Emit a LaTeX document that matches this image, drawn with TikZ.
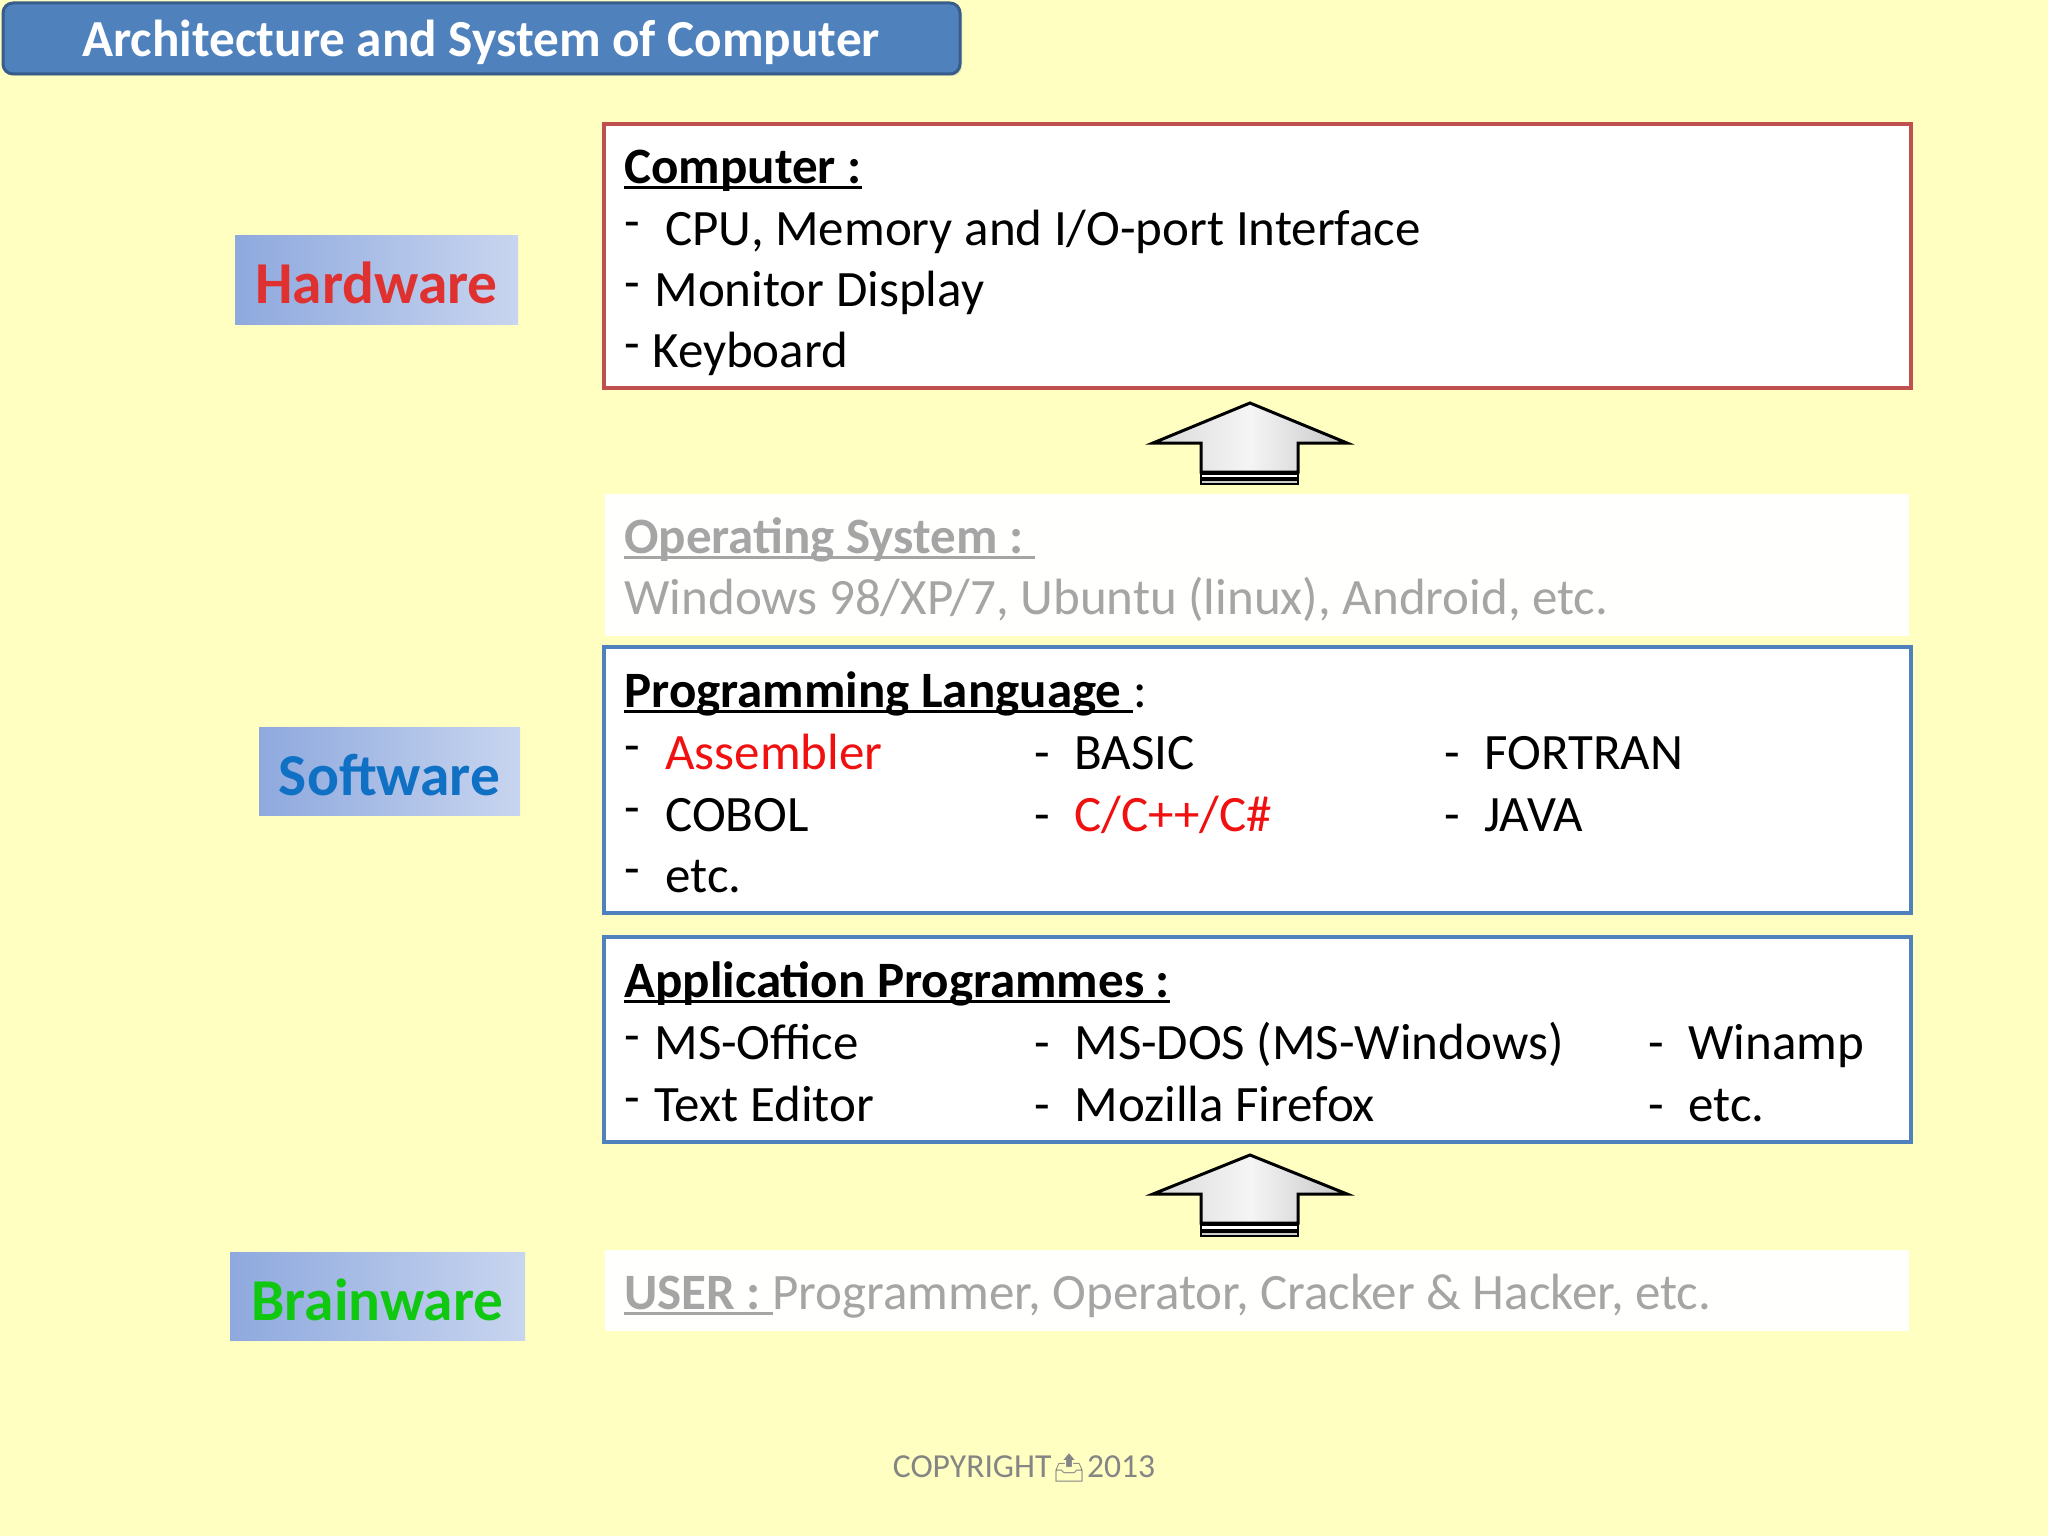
\documentclass[tikz,border=0pt]{standalone}
\usepackage{fontspec}
\setmainfont{Carlito}
\newfontfamily\emojifont{Noto Emoji}
\usetikzlibrary{shadows}
\newsavebox\ulbox
\newcommand\myul[1]{\sbox\ulbox{#1}\rlap{\rule[-3.2pt]{\wd\ulbox}{1.5pt}}\usebox\ulbox}
\definecolor{bgyellow}{HTML}{FFFFC2}
\definecolor{titleblue}{HTML}{4F81BD}
\definecolor{titleborder}{HTML}{385D8A}
\definecolor{hwred}{HTML}{C0504D}
\definecolor{swblue}{HTML}{4F81BD}
\definecolor{lblleft}{HTML}{8EA9DE}
\definecolor{lblright}{HTML}{C8D5EF}
\definecolor{hwtext}{HTML}{E03131}
\definecolor{swtext}{HTML}{1070C4}
\definecolor{bwtext}{HTML}{10C810}
\definecolor{osgray}{HTML}{A5A5A5}
\definecolor{cpgray}{HTML}{858585}
\definecolor{boxwhite}{HTML}{FFFFFD}
\definecolor{redtext}{HTML}{F01010}
\tikzset{
  lbl/.style={inner sep=0pt, font=\fontsize{29.7pt}{34pt}\selectfont\bfseries},
  txt/.style={anchor=base west, inner sep=0pt, font=\fontsize{25.5pt}{30pt}\selectfont},
  bul/.style={anchor=base west, inner sep=0pt, font=\fontsize{25.5pt}{30pt}\selectfont},
  hbox/.style={draw=hwred, line width=2pt, fill=white},
  sbox/.style={draw=swblue, line width=2pt, fill=white},
  pbox/.style={fill=boxwhite},
  lblbox/.style={left color=lblleft, right color=lblright},
  arrowbody/.style={draw=black, line width=1.5pt, left color=gray!30, right color=gray!45, middle color=gray!8, line join=miter},
}
\newcommand\rdash{\raisebox{3.5pt}{-}}
\begin{document}
\begin{tikzpicture}[x=0.5pt,y=-0.5pt]
\useasboundingbox (0,0) rectangle (2048,1536);
\fill[bgyellow] (0,0) rectangle (2048,1536);

% title
\draw[fill=titleblue, draw=titleborder, line width=1.5pt, rounded corners=5pt, drop shadow={opacity=0.25, shadow xshift=1pt, shadow yshift=-1pt}] (3,3) rectangle (960,74);
\node[anchor=base west, inner sep=0pt, text=white, font=\fontsize{26pt}{30pt}\selectfont\bfseries, xscale=0.985] (title) at (82,57) {Architecture and System of Computer};

% labels
\node[lblbox, minimum width=141.5pt, minimum height=44.5pt] (hwbox) at (376.5,279.5) {};
\node[lbl, text=hwtext] (hw) at (376.5,283) {Hardware};
\node[lblbox, minimum width=130.5pt, minimum height=44pt] (swbox) at (389.5,771) {};
\node[lbl, text=swtext] (sw) at (389.5,775) {Software};
\node[lblbox, minimum width=147.5pt, minimum height=44pt] (bwbox) at (377.5,1296) {};
\node[lbl, text=bwtext] (bw) at (377.5,1300) {Brainware};

% computer box
\draw[hbox] (604,124) rectangle (1911,388);
\node[txt] (c0) at (624,183) {\textbf{\myul{Computer :}}};
\node[bul] (c1d) at (624,245) {\rdash};
\node[txt] (c1) at (665,245) {CPU, Memory and I/O-port Interface};
\node[bul] (c2d) at (624,306) {\rdash};
\node[txt] (c2) at (654,306) {Monitor Display};
\node[bul] (c3d) at (624,367) {\rdash};
\node[txt] (c3) at (652,367) {Keyboard};

% arrow 1
\coordinate (a1tip) at (1250,403);
\draw[arrowbody] (a1tip) -- (1347,443) -- (1298,443) -- (1298,472) -- (1201,472) -- (1201,443) -- (1153,443) -- cycle;
\draw[line width=1.3pt, fill=white] (1201,474) rectangle (1298,478);
\draw[line width=1.3pt, fill=gray!40] (1201,480) rectangle (1298,484);

% OS box
\fill[pbox] (605,494) rectangle (1909,636);
\node[txt, text=osgray] (os0) at (624,553) {\textbf{\myul{Operating System :\ }}};
\node[txt, text=osgray] (os1) at (624,614) {Windows 98/XP/7, Ubuntu (linux), Android, etc.};

% programming language box
\draw[sbox] (604,647) rectangle (1911,913);
\node[txt] (p0) at (624,707) {\textbf{\myul{Programming Language\ }}:};
\node[bul] (p1d) at (624,769) {\rdash};
\node[txt, text=redtext] (p1) at (665,769) {Assembler};
\node[bul] (p2d) at (624,831) {\rdash};
\node[txt] (p2) at (665,831) {COBOL};
\node[bul] (p3d) at (624,892) {\rdash};
\node[txt] (p3) at (665,892) {etc.};
\node[bul] (p4d) at (1034,769) {-};
\node[txt] (p4) at (1074,769) {BASIC};
\node[bul] (p5d) at (1034,831) {-};
\node[txt, text=redtext] (p5) at (1074,831) {C/C++/C\#};
\node[bul] (p6d) at (1444,769) {-};
\node[txt] (p6) at (1484,769) {FORTRAN};
\node[bul] (p7d) at (1444,831) {-};
\node[txt] (p7) at (1484,831) {JAVA};

% application box
\draw[sbox] (604,937) rectangle (1911,1142);
\node[txt] (ap0) at (624,997) {\textbf{\myul{Application Programmes :}}};
\node[bul] (ap1d) at (624,1059) {\rdash};
\node[txt] (ap1) at (654,1059) {MS-Office};
\node[bul] (ap2d) at (624,1121) {\rdash};
\node[txt] (ap2) at (654,1121) {Text Editor};
\node[bul] (ap3d) at (1034,1059) {-};
\node[txt] (ap3) at (1074,1059) {MS-DOS (MS-Windows)};
\node[bul] (ap4d) at (1034,1121) {-};
\node[txt] (ap4) at (1074,1121) {Mozilla Firefox};
\node[bul] (ap5d) at (1648,1059) {-};
\node[txt] (ap5) at (1688,1059) {Winamp};
\node[bul] (ap6d) at (1648,1121) {-};
\node[txt] (ap6) at (1688,1121) {etc.};

% arrow 2
\coordinate (a2tip) at (1250,1155);
\draw[arrowbody] (a2tip) -- (1347,1194) -- (1298,1194) -- (1298,1223) -- (1201,1223) -- (1201,1194) -- (1153,1194) -- cycle;
\draw[line width=1.3pt, fill=white] (1201,1225) rectangle (1298,1230);
\draw[line width=1.3pt, fill=gray!40] (1201,1232) rectangle (1298,1236);

% user box
\fill[pbox] (605,1250) rectangle (1909,1331);
\node[txt, text=osgray] (u0) at (624,1309) {\textbf{\myul{USER :\ }}Programmer, Operator, Cracker \& Hacker, etc.};

% copyright
\node[anchor=base, inner sep=0pt, text=cpgray, font=\fontsize{16.8pt}{20pt}\selectfont] (copy) at (1024,1477) {COPYRIGHT{\emojifont\fontsize{14pt}{16pt}\selectfont 📤}2013};
\end{tikzpicture}
\end{document}
